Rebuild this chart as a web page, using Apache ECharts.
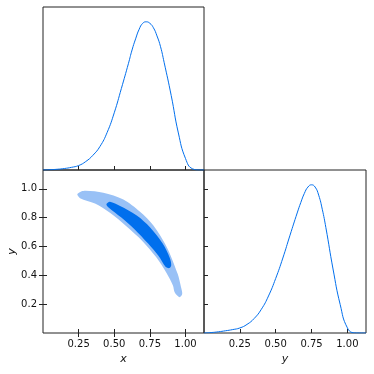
<!DOCTYPE html>
<html>
<head>
<meta charset="utf-8">
<script src="https://cdn.jsdelivr.net/npm/echarts@6/dist/echarts.min.js"></script>
</head>
<body style="margin:0">
<div id="main" style="width:374px;height:374px"></div>
<script>
// marginal of x (top-left panel)
var xMargX = [0.0, 0.05, 0.1, 0.15, 0.2, 0.25, 0.3, 0.35, 0.4, 0.45, 0.5, 0.55, 0.6, 0.625, 0.65, 0.675, 0.7, 0.725, 0.75, 0.775, 0.8, 0.825, 0.85, 0.9, 0.95, 1.0, 1.05, 1.1, 1.13];
var xMargP = [0.0, 0.002, 0.005, 0.01, 0.018, 0.03, 0.057, 0.099, 0.159, 0.253, 0.386, 0.55, 0.72, 0.81, 0.885, 0.95, 0.99, 1.0, 0.99, 0.96, 0.905, 0.832, 0.727, 0.502, 0.25, 0.078, 0.008, 0, 0];
// marginal of y (bottom-right panel)
var yMargY = [0.0, 0.05, 0.1, 0.15, 0.2, 0.25, 0.3, 0.35, 0.4, 0.45, 0.5, 0.55, 0.6, 0.65, 0.675, 0.7, 0.725, 0.75, 0.775, 0.8, 0.825, 0.85, 0.9, 0.95, 1.0, 1.05, 1.1, 1.13];
var yMargP = [0, 0.003, 0.008, 0.015, 0.023, 0.034, 0.058, 0.098, 0.16, 0.25, 0.368, 0.506, 0.66, 0.81, 0.88, 0.942, 0.985, 1.0, 0.985, 0.93, 0.835, 0.712, 0.432, 0.192, 0.035, 0.001, 0, 0];
// 95% contour (outer)
var outerX = [0.241, 0.283, 0.423, 0.564, 0.681, 0.775, 0.869, 0.945, 0.968, 0.977, 0.958, 0.925, 0.912, 0.868, 0.795, 0.7, 0.585, 0.475, 0.365, 0.26];
var outerY = [0.963, 0.985, 0.972, 0.925, 0.84, 0.745, 0.595, 0.41, 0.32, 0.27, 0.248, 0.28, 0.33, 0.415, 0.525, 0.635, 0.74, 0.83, 0.897, 0.935];
// 68% contour (inner)
var innerX = [0.445, 0.47, 0.541, 0.658, 0.752, 0.84, 0.89, 0.9, 0.887, 0.86, 0.81, 0.738, 0.642, 0.55, 0.46];
var innerY = [0.893, 0.91, 0.88, 0.815, 0.732, 0.62, 0.52, 0.47, 0.45, 0.46, 0.535, 0.62, 0.72, 0.8, 0.87];

var xTicks = [0.25, 0.5, 0.75, 1.0];
var yTicks = [0.2, 0.4, 0.6, 0.8, 1.0];

var font = 'DejaVu Sans';
var blue = '#006FED';
var light = '#99C1F6';

function pairs(a, b) { return a.map(function (v, i) { return [v, b[i]]; }); }

function contour(xs, ys, color) {
    return {
        type: 'custom', xAxisIndex: 1, yAxisIndex: 1, silent: true,
        data: [[xs[0], ys[0]]],
        renderItem: function (params, api) {
            var pts = xs.map(function (x, i) { return api.coord([x, ys[i]]); });
            return { type: 'polygon', shape: { points: pts, smooth: 0.3 }, style: { fill: color } };
        }
    };
}

function ticks(vals) {
    return { show: true, inside: true, length: 4, customValues: vals, lineStyle: { color: '#222' } };
}
function labels(vals, d) {
    return { show: true, customValues: vals, formatter: function (v) { return (+v).toFixed(d); },
             color: '#111', fontFamily: font, fontSize: 10, margin: 6 };
}
var nameStyle = { fontFamily: font, fontStyle: 'italic', fontSize: 11, color: '#111' };
var gridBox = { show: true, borderColor: '#222', borderWidth: 1, containLabel: false };

var myChart = echarts.init(document.getElementById('main'));
var option = {
    animation: false,
    grid: [
        Object.assign({ left: 43, top: 7, width: 161, height: 163 }, gridBox),
        Object.assign({ left: 43, top: 170, width: 161, height: 163 }, gridBox),
        Object.assign({ left: 204, top: 170, width: 162, height: 163 }, gridBox)
    ],
    xAxis: [
        { gridIndex: 0, type: 'value', min: 0, max: 1.13, axisLine: { show: false },
          axisTick: ticks(xTicks), axisLabel: { show: false }, splitLine: { show: false } },
        { gridIndex: 1, type: 'value', min: 0, max: 1.13, axisLine: { show: false },
          axisTick: ticks(xTicks), axisLabel: labels(xTicks, 2), splitLine: { show: false },
          name: 'x', nameLocation: 'middle', nameGap: 21, nameTextStyle: nameStyle },
        { gridIndex: 1, type: 'value', position: 'top', min: 0, max: 1.13, axisLine: { show: false },
          axisTick: ticks(xTicks), axisLabel: { show: false }, splitLine: { show: false } },
        { gridIndex: 2, type: 'value', min: 0, max: 1.13, axisLine: { show: false },
          axisTick: ticks(xTicks), axisLabel: labels(xTicks, 2), splitLine: { show: false },
          name: 'y', nameLocation: 'middle', nameGap: 21, nameTextStyle: nameStyle }
    ],
    yAxis: [
        { gridIndex: 0, type: 'value', min: 0, max: 1.1, show: false },
        { gridIndex: 1, type: 'value', min: 0, max: 1.13, axisLine: { show: false },
          axisTick: ticks(yTicks), axisLabel: labels(yTicks, 1), splitLine: { show: false },
          name: 'y', nameLocation: 'middle', nameGap: 25, nameRotate: 90, nameTextStyle: nameStyle },
        { gridIndex: 1, type: 'value', position: 'right', min: 0, max: 1.13, axisLine: { show: false },
          axisTick: ticks(yTicks), axisLabel: { show: false }, splitLine: { show: false } },
        { gridIndex: 2, type: 'value', min: 0, max: 1.1, show: false },
        { gridIndex: 2, type: 'value', position: 'left', min: 0, max: 1.13, axisLine: { show: false },
          axisTick: ticks(yTicks), axisLabel: { show: false }, splitLine: { show: false } }
    ],
    series: [
        { type: 'line', xAxisIndex: 0, yAxisIndex: 0, data: pairs(xMargX, xMargP), smooth: 0.5,
          showSymbol: false, lineStyle: { color: blue, width: 1 }, silent: true },
        contour(outerX, outerY, light),
        contour(innerX, innerY, blue),
        { type: 'line', xAxisIndex: 3, yAxisIndex: 3, data: pairs(yMargY, yMargP), smooth: 0.5,
          showSymbol: false, lineStyle: { color: blue, width: 1 }, silent: true }
    ]
};
myChart.setOption(option);
</script>
</body>
</html>
